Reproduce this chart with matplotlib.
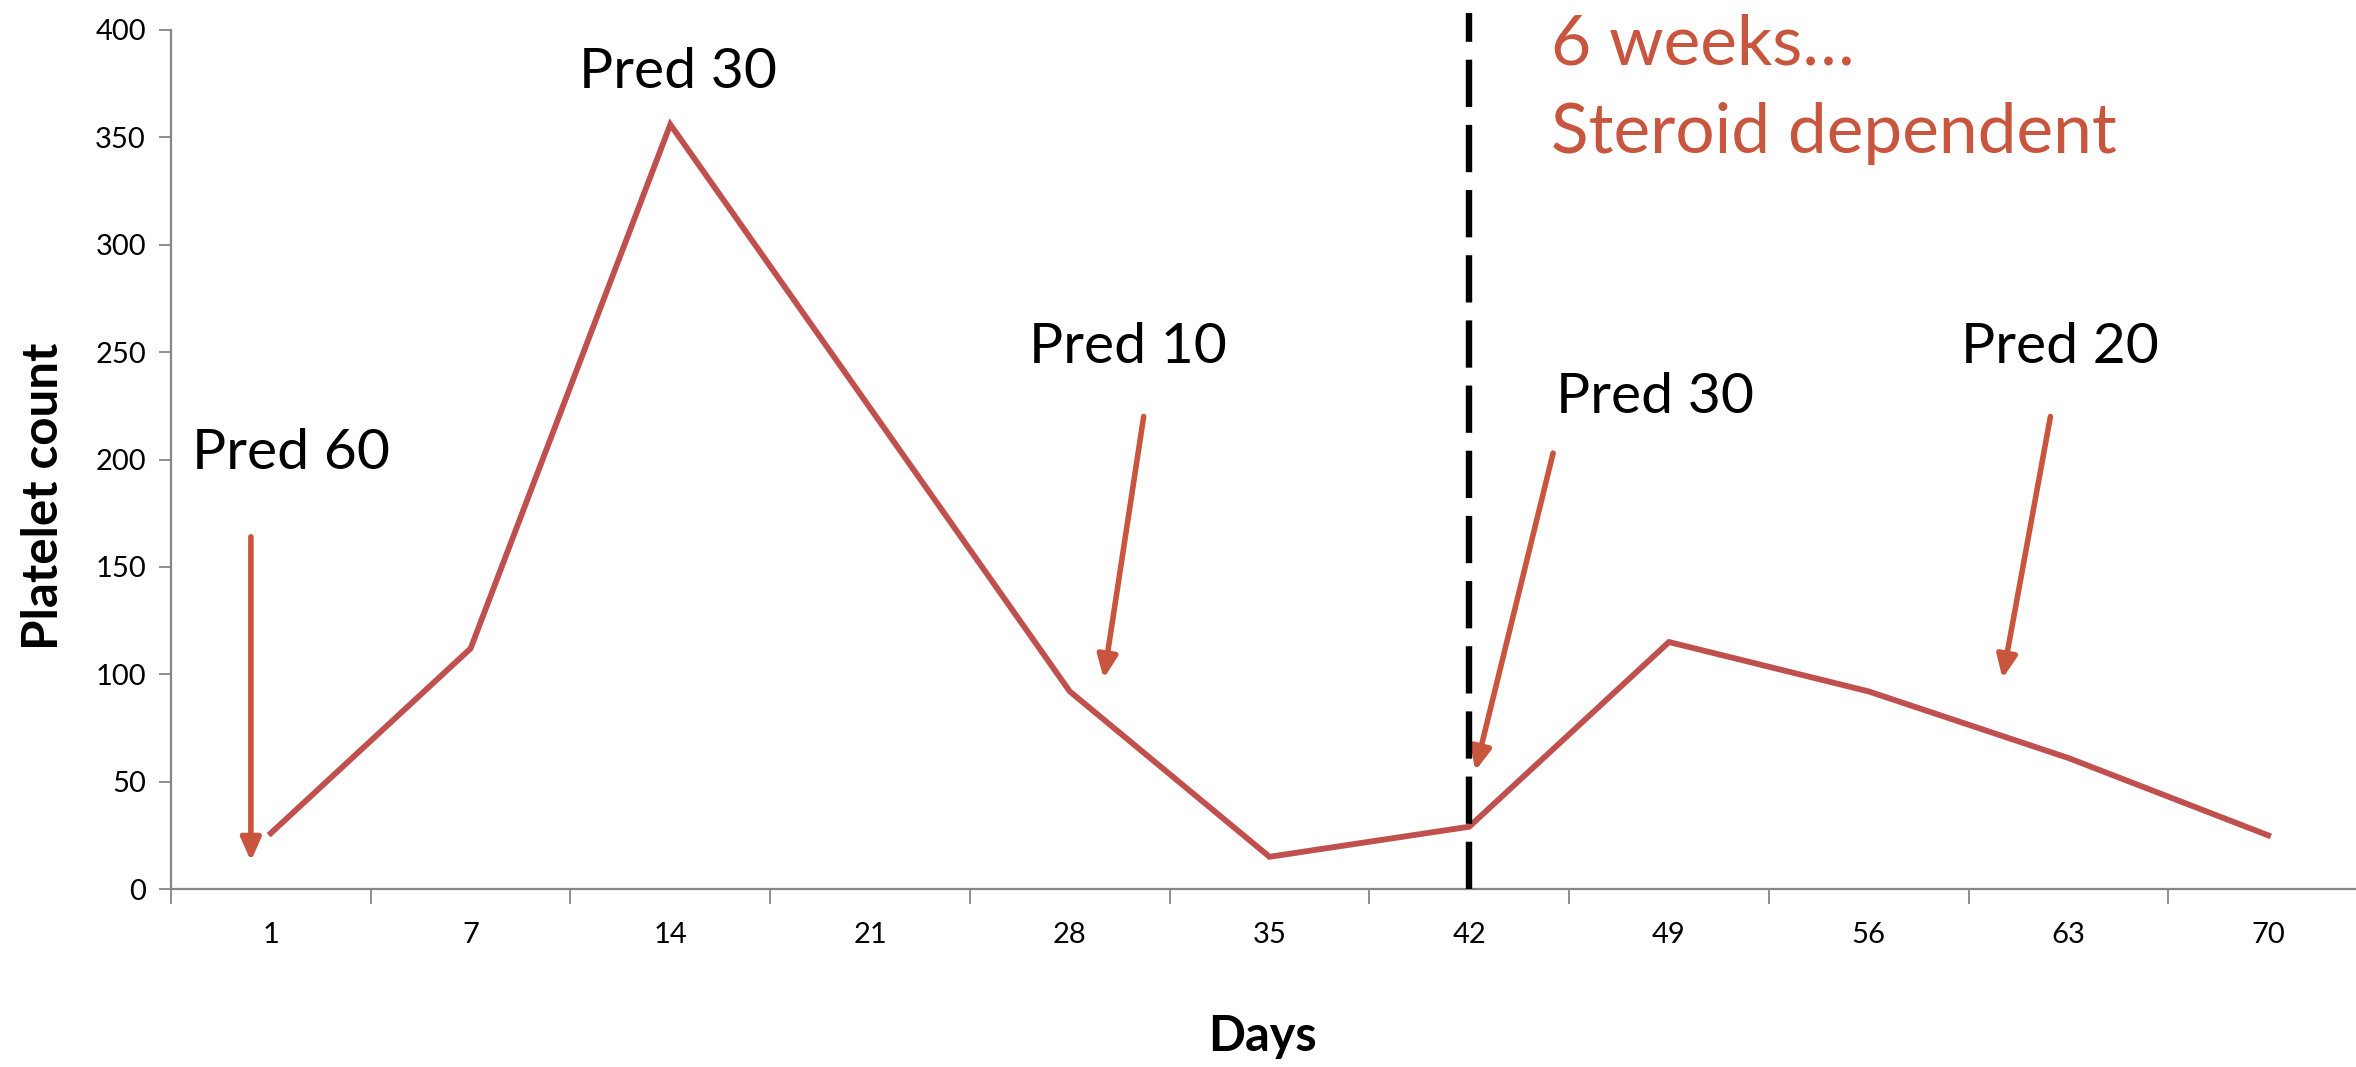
import matplotlib
matplotlib.use("Agg")
import matplotlib.pyplot as plt
import numpy as np

# ---- data ----
days = ["1", "7", "14", "21", "28", "35", "42", "49", "56", "63", "70"]
platelets = [26, 112, 356, 224, 92, 15, 29, 115, 92, 61, 25]
yticks = [0, 50, 100, 150, 200, 250, 300, 350, 400]

# annotations: (text, text_x, text_y) in category index / value units
labels = ["Pred 60", "Pred 30", "Pred 10", "Pred 30", "Pred 20"]
label_x = [0.10, 2.04, 4.29, 6.93, 8.96]
label_y = [203, 380, 252, 229, 252]
# arrows: tail -> head
arrow_tail_x = [-0.10, 4.37, 6.42, 8.91]
arrow_tail_y = [164, 220, 203, 220]
arrow_head_x = [-0.10, 4.17, 6.03, 8.67]
arrow_head_y = [13, 98, 55, 98]
marker_day_index = 6  # day 42 dashed line
note_lines = ["6 weeks\u2026", "Steroid dependent"]
note_x = 6.41
note_y = [393, 352]

LINE_COLOR = "#C0504D"
ARROW_COLOR = "#C8553D"
AXIS_GRAY = "#868686"
FONT = ["Lato", "DejaVu Sans"]

plt.rcParams["font.family"] = FONT

fig = plt.figure(figsize=(23.56, 10.67), dpi=100)
ax = fig.add_axes([171 / 2356, 1 - 889 / 1067, 2197 / 2356, (889 - 30) / 1067])

x = np.arange(len(days))
ax.plot(x, platelets, color=LINE_COLOR, lw=4.2, solid_joinstyle="miter", zorder=3)

ax.set_xlim(-0.5, len(days) - 0.5)
ax.set_ylim(0, 400)

# dashed vertical line at day 42
ax.plot([marker_day_index, marker_day_index], [0, 408], color="black", lw=4.6,
        dashes=(7.4, 2.8), clip_on=False, zorder=4)

# spines
for s in ["top", "right"]:
    ax.spines[s].set_visible(False)
for s in ["left", "bottom"]:
    ax.spines[s].set_color(AXIS_GRAY)
    ax.spines[s].set_linewidth(1.6)

# y ticks
ax.set_yticks(yticks)
ax.set_yticklabels([str(v) for v in yticks])
ax.tick_params(axis="y", direction="out", length=9, width=1.3, color=AXIS_GRAY,
               labelsize=21, pad=9)

# x ticks: major at boundaries, labels at minor centers
ax.set_xticks(np.arange(-0.5, len(days), 1.0))
ax.set_xticklabels([])
ax.set_xticks(x, minor=True)
ax.set_xticklabels(days, minor=True)
ax.tick_params(axis="x", which="major", direction="out", length=11, width=1.3,
               color=AXIS_GRAY)
ax.tick_params(axis="x", which="minor", length=0, labelsize=21, pad=24)

ax.set_ylabel("Platelet count", fontsize=35.5, fontweight="bold")
ax.yaxis.set_label_coords(-0.058, 0.457)
ax.yaxis.label.set_va("center")
ax.set_xlabel("Days", fontsize=35, fontweight="bold")
ax.xaxis.set_label_coords(0.497, -0.172)
ax.xaxis.label.set_va("center")

# text annotations
for t, tx, ty in zip(labels, label_x, label_y):
    ax.text(tx, ty, t, fontsize=41, ha="center", va="center", color="black")

for tx, ty, hx, hy in zip(arrow_tail_x, arrow_tail_y, arrow_head_x, arrow_head_y):
    ax.annotate("", xy=(hx, hy), xytext=(tx, ty),
                arrowprops=dict(arrowstyle="-|>,head_length=0.45,head_width=0.2",
                                color=ARROW_COLOR, lw=4.0, mutation_scale=30,
                                shrinkA=0, shrinkB=0))

for t, ny in zip(note_lines, note_y):
    ax.text(note_x, ny, t, fontsize=50, ha="left", va="center", color=ARROW_COLOR,
            clip_on=False)

fig.savefig("out.png", dpi=100)
